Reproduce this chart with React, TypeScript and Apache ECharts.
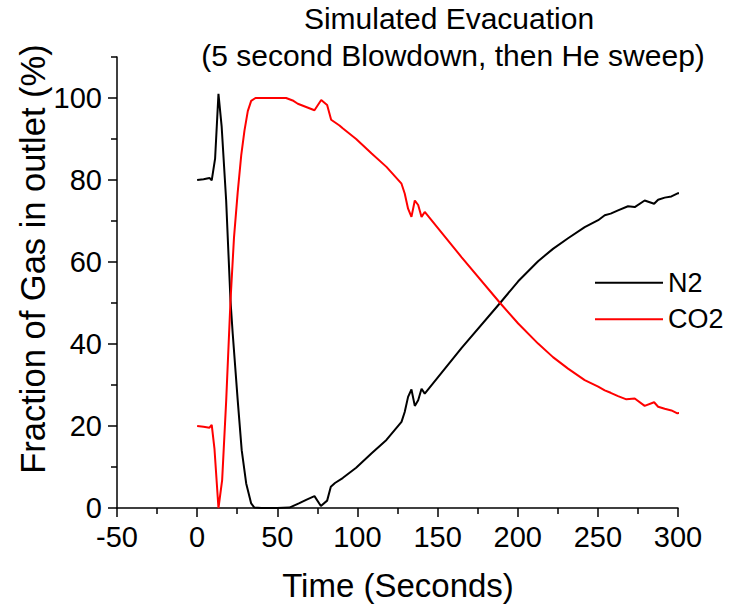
import React, { useEffect, useRef } from "react";
import * as echarts from "echarts";

const FONT = "'Liberation Sans', Arial, Helvetica, sans-serif";

const titleLines = ["Simulated Evacuation", "(5 second Blowdown, then He sweep)"];
const xAxisName = "Time (Seconds)";
const yAxisName = "Fraction of Gas in outlet (%)";
const seriesNames = ["N2", "CO2"];

const yMajorTicks = [0, 20, 40, 60, 80, 100];
const yMinorTicks = [10, 30, 50, 70, 90, 110];

const n2Time = [
  0, 4, 7.7, 9.1, 11.2, 13.3, 15.3, 18.1, 20.8, 22.2, 25.3, 27.8, 30.6, 33.7, 35.7, 40, 50, 57.6,
  63.8, 68, 73.2, 77.2, 81.1, 83.4, 86, 90.8, 99.2, 108.7, 118.1, 127.5, 129.5, 131.6, 133.7,
  135.8, 137.9, 140, 142, 164.9, 189, 200.3, 212.7, 222, 231.4, 241.8, 250.2, 254.3, 258, 262.6,
  268.8, 273, 279.2, 285.1, 287.6, 291.7, 295.9, 300.1, 302.1,
];
const n2Value = [
  80.0, 80.2, 80.5, 79.9, 85.2, 101, 93, 75, 50.6, 42.5, 26.3, 14.1, 6, 1.1, 0.1, 0, 0, 0.1,
  1.2, 2, 2.9, 0.5, 1.8, 5.2, 6.1, 7.3, 9.8, 13.3, 16.6, 21, 23.4, 27.1, 28.9,
  24.9, 26.3, 29.1, 27.9, 39, 50, 55.3, 60.2, 63.2, 65.8, 68.5, 70.2, 71.4, 71.8, 72.6,
  73.6, 73.4, 75.0, 74.2, 75.2, 75.7, 76.0, 76.8, 76.7,
];

const co2Time = [
  0, 4, 7.7, 9.1, 10.8, 13.3, 15.6, 18.1, 20.8, 23, 25.3, 27.5, 29.5, 31.6, 33.7, 36.4, 55.5,
  59.6, 62.8, 68, 73.2, 77.4, 81.1, 83.6, 88.8, 90.8, 99.2, 108.7, 118.1, 127.5, 129.5, 131.6,
  133.7, 135.8, 137.9, 140, 142, 164.9, 189, 200.3, 212.7, 222, 231.4, 241.8, 250.2, 254.3, 258,
  262.6, 267.8, 273, 279.2, 285.1, 287.6, 291.7, 295.9, 299.6, 302.1,
];
const co2Value = [
  20.0, 19.8, 19.6, 20.3, 14.5, 0, 6.8, 26, 50.5, 66, 77, 86, 92, 96.8, 99.3, 100, 100,
  99.4, 98.6, 97.8, 97, 99.5, 98.3, 94.7, 93.3, 92.6, 90, 86.5, 83.2, 79.1, 76.7, 73,
  71, 75, 73.9, 71, 72.2, 61.2, 50, 45, 40.1, 36.8, 34, 31.2, 29.6, 28.7, 28.1,
  27.3, 26.5, 26.7, 24.9, 25.8, 24.7, 24.2, 23.8, 23.1, 23.3,
];

const zip = (xs: number[], ys: number[]) => xs.map((x, i) => [x, ys[i]]);

export default function App() {
  const ref = useRef<HTMLDivElement>(null);

  useEffect(() => {
    if (!ref.current) return;
    const chart = echarts.init(ref.current, null, { renderer: "svg" });
    const black = "#000000";
    const axisLineStyle = { color: black, width: 1.5 };

    chart.setOption({
      animation: false,
      backgroundColor: "#ffffff",
      textStyle: { fontFamily: FONT },
      grid: { left: 117, right: 66, top: 57, bottom: 97, containLabel: false },
      legend: {
        orient: "vertical",
        left: 590,
        top: 262.7,
        itemWidth: 68,
        itemHeight: 2,
        itemGap: 6.6,
        icon: "rect",
        data: seriesNames,
        textStyle: { fontSize: 27, color: black, fontFamily: FONT, lineHeight: 30 },
      },
      xAxis: {
        type: "value",
        min: -50,
        max: 300,
        interval: 50,
        axisLine: { show: true, onZero: false, lineStyle: axisLineStyle },
        axisTick: { show: true, length: 9, lineStyle: axisLineStyle },
        minorTick: { show: true, splitNumber: 2, length: 6, lineStyle: axisLineStyle },
        splitLine: { show: false },
        minorSplitLine: { show: false },
        axisLabel: { color: black, fontSize: 29, fontFamily: FONT, margin: 14.5 },
      },
      yAxis: [
        {
          type: "value",
          min: 0,
          max: 110,
          interval: 10,
          position: "left",
          axisLine: { show: true, onZero: false, lineStyle: axisLineStyle },
          axisTick: { show: true, length: 9, lineStyle: axisLineStyle, customValues: yMajorTicks },
          splitLine: { show: false },
          axisLabel: {
            color: black,
            fontSize: 29,
            fontFamily: FONT,
            margin: 15,
            customValues: yMajorTicks,
          },
        },
        {
          type: "value",
          min: 0,
          max: 110,
          interval: 10,
          position: "left",
          axisLine: { show: false, onZero: false },
          axisTick: { show: true, length: 6, lineStyle: axisLineStyle, customValues: yMinorTicks },
          splitLine: { show: false },
          axisLabel: { show: false },
        },
      ],
      series: [
        {
          name: seriesNames[0],
          type: "line",
          data: zip(n2Time, n2Value),
          showSymbol: false,
          symbol: "none",
          clip: false,
          color: black,
          lineStyle: { color: black, width: 2 },
        },
        {
          name: seriesNames[1],
          type: "line",
          data: zip(co2Time, co2Value),
          showSymbol: false,
          symbol: "none",
          clip: false,
          color: "#ff0000",
          lineStyle: { color: "#ff0000", width: 2 },
        },
      ],
      graphic: [
        {
          type: "text",
          x: 449,
          y: 18,
          style: {
            text: titleLines[0],
            fontSize: 30,
            fontFamily: FONT,
            fill: black,
            align: "center",
            verticalAlign: "middle",
          },
        },
        {
          type: "text",
          x: 453,
          y: 55,
          style: {
            text: titleLines[1],
            fontSize: 30,
            fontFamily: FONT,
            fill: black,
            align: "center",
            verticalAlign: "middle",
          },
        },
        {
          type: "text",
          x: 398,
          y: 585,
          style: {
            text: xAxisName,
            fontSize: 33,
            fontFamily: FONT,
            fill: black,
            align: "center",
            verticalAlign: "middle",
          },
        },
        {
          type: "text",
          x: 33,
          y: 259,
          rotation: Math.PI / 2,
          style: {
            text: yAxisName,
            fontSize: 34.5,
            fontFamily: FONT,
            fill: black,
            align: "center",
            verticalAlign: "middle",
          },
        },
      ],
    });

    return () => chart.dispose();
  }, []);

  return (
    <div
      ref={ref}
      style={{ position: "fixed", left: 0, top: 0, width: 744, height: 605, background: "#fff" }}
    />
  );
}
